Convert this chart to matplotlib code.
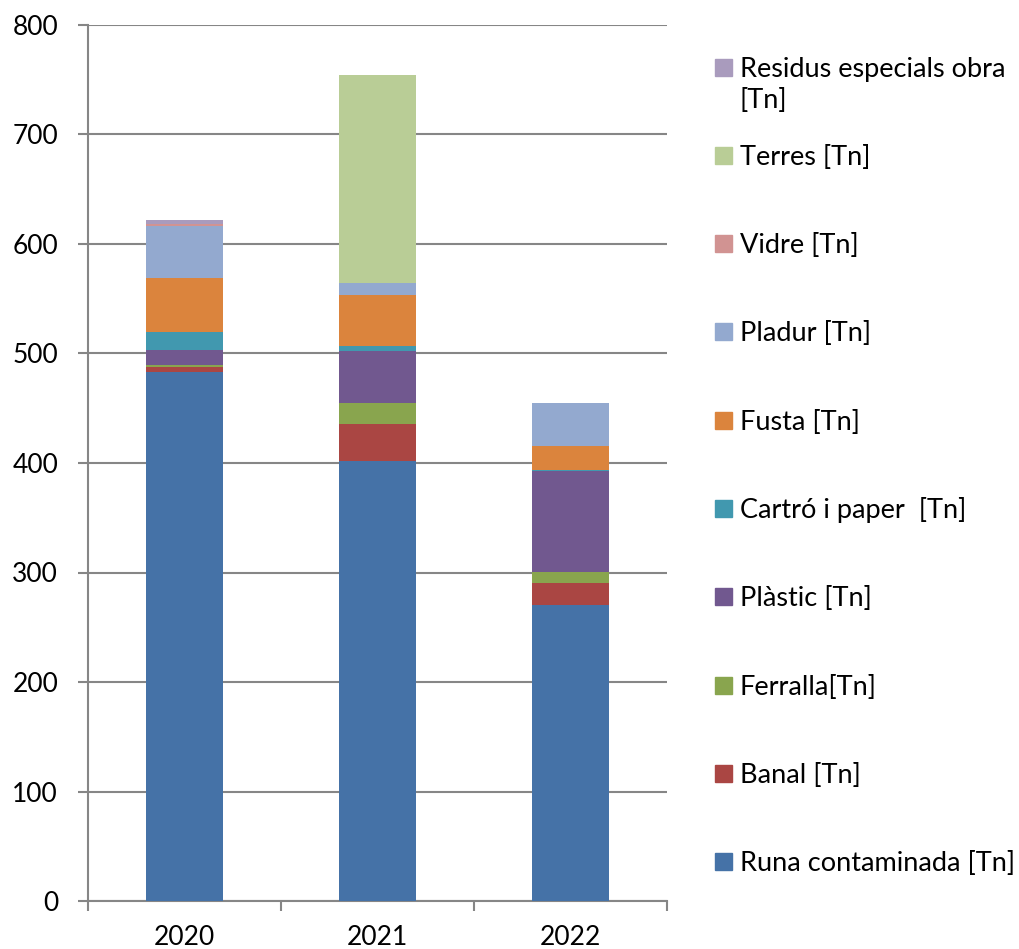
import matplotlib.pyplot as plt
from matplotlib.patches import Rectangle
import numpy as np

plt.rcParams['font.family'] = ['Lato', 'DejaVu Sans']

years = ['2020', '2021', '2022']

runa = [483, 401.5, 270.4]
banal = [4.5, 34.5, 19.8]
ferralla = [2, 19.1, 9.8]
plastic = [13.8, 47.2, 92.7]
cartro = [16, 4.8, 1.2]
fusta = [49.4, 46.3, 21.9]
pladur = [47.6, 11.3, 39.3]
vidre = [2, 0, 0]
terres = [0, 189.6, 0]
residus = [3.5, 0.3, 0]

series = [runa, banal, ferralla, plastic, cartro, fusta, pladur, vidre, terres, residus]
labels = ['Runa contaminada [Tn]', 'Banal [Tn]', 'Ferralla[Tn]', 'Plàstic [Tn]',
          'Cartró i paper  [Tn]', 'Fusta [Tn]', 'Pladur [Tn]', 'Vidre [Tn]',
          'Terres [Tn]', 'Residus especials obra\n[Tn]']
colors = ['#4572A7', '#AA4643', '#89A54E', '#71588F', '#4198AF', '#DB843D',
          '#93A9CF', '#D19392', '#B9CD96', '#A99BBD']

W, H = 1019, 949
fig = plt.figure(figsize=(W / 100, H / 100), dpi=100)
ax = fig.add_axes([88 / W, 1 - 901 / H, 579 / W, 876 / H])

x = np.arange(len(years))
bottom = np.zeros(len(years))
for vals, c in zip(series, colors):
    ax.bar(x, vals, 0.4, bottom=bottom, color=c, zorder=3)
    bottom += np.array(vals)

grid_c = '#868686'
ax.set_xlim(-0.5, 2.5)
ax.set_ylim(0, 800)
ax.set_yticks(range(0, 801, 100))
ax.yaxis.grid(True, color=grid_c, linewidth=1.5, zorder=0)
ax.set_xticks(x)
ax.set_xticklabels(years)
ax.set_xticks([-0.5, 0.5, 1.5, 2.5], minor=True)
ax.tick_params(axis='x', which='major', length=0, labelsize=19, pad=17)
ax.tick_params(axis='x', which='minor', length=7, width=1.5, color=grid_c)
ax.tick_params(axis='y', length=7.5, width=1.5, color=grid_c, labelsize=19, pad=14)
for s in ['top', 'right']:
    ax.spines[s].set_visible(False)
for s in ['left', 'bottom']:
    ax.spines[s].set_color(grid_c)
    ax.spines[s].set_linewidth(1.5)

# legend drawn by hand, top entry first
y0, step, sq = 67, 88.3, 17
for i, (lab, c) in enumerate(zip(labels[::-1], colors[::-1])):
    yp = y0 + i * step
    fig.patches.append(Rectangle((715 / W, 1 - (yp + sq / 2) / H), sq / W, sq / H,
                                 transform=fig.transFigure, color=c))
    for k, line in enumerate(lab.split('\n')):
        fig.text(740 / W, 1 - (yp + 9.5 + k * 32) / H, line, fontsize=19.5,
                 va='baseline', ha='left')

fig.savefig('out.png', dpi=100)
